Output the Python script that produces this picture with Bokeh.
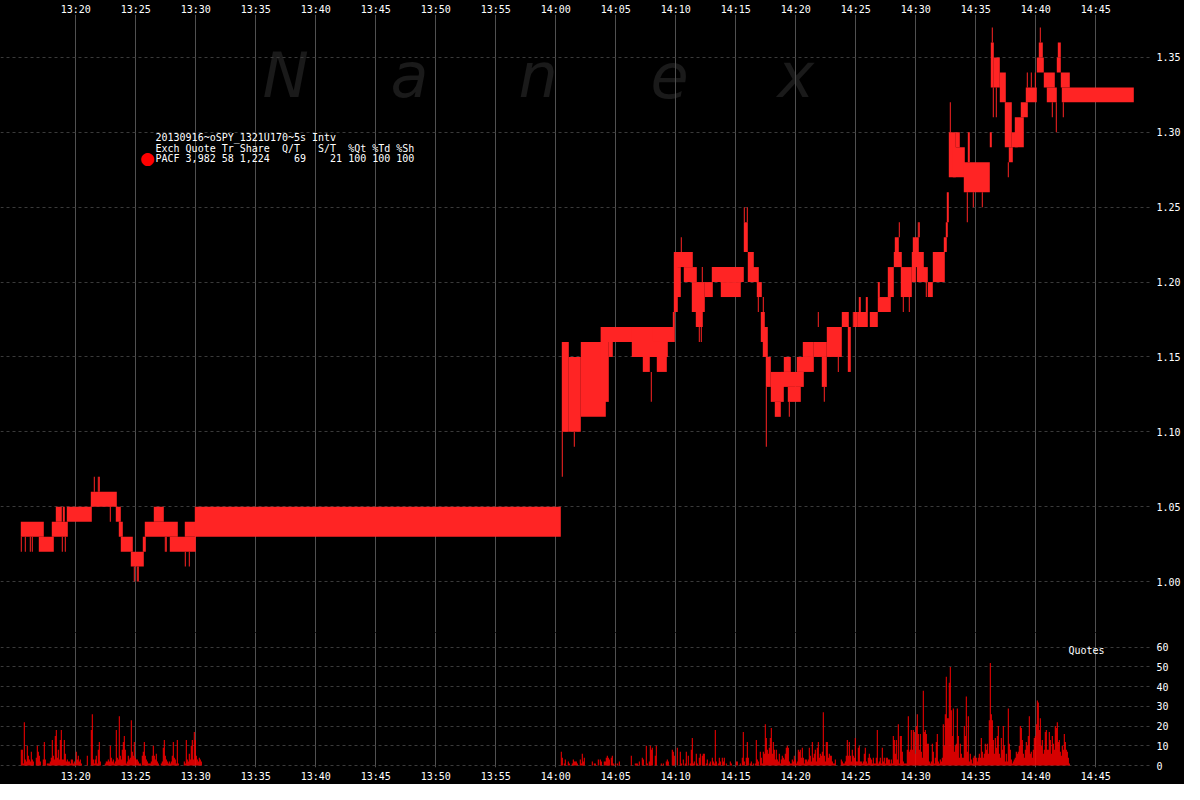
import re
from bokeh.plotting import figure
from bokeh.models import ColumnDataSource, Range1d, PrintfTickFormatter, Label
from bokeh.layouts import column
from bokeh.embed import file_html
from bokeh.resources import INLINE

# ---------------- data ----------------
time_ticks = ["13:20", "13:25", "13:30", "13:35", "13:40", "13:45", "13:50", "13:55",
              "14:00", "14:05", "14:10", "14:15", "14:20", "14:25", "14:30", "14:35",
              "14:40", "14:45"]
price_ticks = [1.00, 1.05, 1.10, 1.15, 1.20, 1.25, 1.30, 1.35]
quote_ticks = [0, 10, 20, 30, 40, 50, 60]

# 5-second interval quote ranges (blocks)
blk_start = ["13:15:25", "13:16:55", "13:18:00", "13:18:20", "13:18:55", "13:19:15", "13:21:15",
             "13:23:20", "13:23:35", "13:23:45", "13:24:35", "13:25:35", "13:25:45", "13:26:30",
             "13:27:50", "13:29:05", "13:29:55",
             "14:00:30", "14:01:05", "14:02:05", "14:03:45", "14:04:25", "14:03:45", "14:06:20",
             "14:07:15", "14:08:25", "14:08:05", "14:09:45", "14:09:50", "14:10:05", "14:10:05",
             "14:10:40", "14:11:20", "14:11:40", "14:12:25", "14:13:00", "14:13:45", "14:15:40",
             "14:16:00", "14:16:15", "14:16:45", "14:17:05", "14:17:15", "14:17:30", "14:17:55",
             "14:18:15", "14:18:45", "14:19:00", "14:19:20", "14:20:05", "14:20:35", "14:21:30",
             "14:22:10", "14:22:35", "14:23:50", "14:24:20", "14:24:50",
             "14:25:10", "14:25:15", "14:25:50", "14:26:10", "14:26:50", "14:26:50", "14:27:40",
             "14:28:10", "14:28:15", "14:28:45", "14:29:40", "14:29:45", "14:30:05", "14:30:35",
             "14:31:00", "14:31:25", "14:32:20", "14:32:30", "14:32:35", "14:32:45", "14:33:05",
             "14:33:20", "14:34:00", "14:34:20", "14:36:10", "14:36:15", "14:36:30", "14:37:00",
             "14:37:25", "14:37:45", "14:38:00", "14:38:15", "14:38:45", "14:39:10", "14:40:05",
             "14:40:15", "14:40:40", "14:40:55", "14:41:45", "14:41:50", "14:42:05", "14:42:10"]
blk_end = ["13:17:20", "13:18:10", "13:19:20", "13:18:50", "13:19:05", "13:21:20", "13:23:25",
           "13:23:45", "13:23:55", "13:24:45", "13:25:40", "13:25:50", "13:28:30", "13:27:20",
           "13:30:00", "13:30:00", "14:00:25",
           "14:01:05", "14:02:05", "14:04:10", "14:04:25", "14:04:45", "14:08:05", "14:09:20",
           "14:07:50", "14:09:15", "14:09:50", "14:09:55", "14:10:10", "14:11:25", "14:10:25",
           "14:11:45", "14:12:25", "14:12:15", "14:13:05", "14:15:40", "14:15:25", "14:16:00",
           "14:16:30", "14:16:55", "14:17:10", "14:17:25", "14:17:40", "14:17:55", "14:19:00",
           "14:18:45", "14:20:40", "14:19:35", "14:20:25", "14:21:30", "14:21:30", "14:22:35",
           "14:22:35", "14:23:50", "14:24:25", "14:24:35", "14:25:10",
           "14:26:00", "14:25:25", "14:26:00", "14:26:50", "14:27:55", "14:27:00", "14:28:10",
           "14:28:50", "14:28:35", "14:29:40", "14:30:00", "14:30:15", "14:30:40", "14:31:00",
           "14:31:25", "14:32:25", "14:32:35", "14:32:40", "14:32:45", "14:33:20", "14:34:05",
           "14:33:40", "14:36:10", "14:34:30", "14:36:20", "14:36:30", "14:37:00", "14:37:30",
           "14:38:00", "14:38:05", "14:38:30", "14:39:00", "14:39:20", "14:40:05", "14:40:40",
           "14:40:35", "14:41:35", "14:41:45", "14:42:05", "14:42:05", "14:42:50", "14:48:10"]
blk_low = [1.03, 1.02, 1.03, 1.04, 1.04, 1.04, 1.05,
           1.04, 1.03, 1.02, 1.01, 1.02, 1.03, 1.04,
           1.02, 1.03, 1.03,
           1.10, 1.10, 1.11, 1.12, 1.15, 1.16, 1.15,
           1.14, 1.14, 1.16, 1.16, 1.18, 1.21, 1.19,
           1.20, 1.18, 1.17, 1.19, 1.20, 1.19, 1.22,
           1.20, 1.20, 1.19, 1.16, 1.15, 1.13, 1.12,
           1.11, 1.13, 1.14, 1.12, 1.14, 1.15, 1.15,
           1.13, 1.15, 1.17, 1.14, 1.17,
           1.17, 1.18, 1.18, 1.17, 1.18, 1.19, 1.19,
           1.21, 1.22, 1.19, 1.20, 1.21, 1.20, 1.20,
           1.19, 1.20, 1.22, 1.23, 1.24, 1.27, 1.27,
           1.29, 1.26, 1.28, 1.29, 1.33, 1.33, 1.32,
           1.29, 1.28, 1.29, 1.29, 1.31, 1.32, 1.34,
           1.35, 1.33, 1.32, 1.34, 1.35, 1.33, 1.32]
blk_high = [1.04, 1.03, 1.04, 1.05, 1.05, 1.05, 1.06,
            1.05, 1.04, 1.03, 1.02, 1.03, 1.04, 1.05,
            1.03, 1.04, 1.05,
            1.16, 1.15, 1.16, 1.17, 1.17, 1.17, 1.17,
            1.15, 1.15, 1.17, 1.18, 1.22, 1.22, 1.21,
            1.21, 1.20, 1.18, 1.20, 1.21, 1.20, 1.24,
            1.22, 1.21, 1.20, 1.18, 1.17, 1.15, 1.14,
            1.12, 1.14, 1.15, 1.13, 1.15, 1.16, 1.16,
            1.15, 1.17, 1.18, 1.17, 1.18,
            1.18, 1.19, 1.19, 1.18, 1.19, 1.20, 1.21,
            1.22, 1.23, 1.21, 1.22, 1.23, 1.22, 1.21,
            1.20, 1.22, 1.23, 1.24, 1.26, 1.30, 1.29,
            1.30, 1.28, 1.30, 1.30, 1.36, 1.35, 1.34,
            1.32, 1.29, 1.30, 1.31, 1.32, 1.33, 1.35,
            1.36, 1.34, 1.33, 1.35, 1.36, 1.34, 1.33]

# single 5-second spikes
spike_time = ["13:15:25", "13:15:45", "13:16:10", "13:16:20", "13:18:50", "13:19:05", "13:21:30",
              "13:21:50", "13:21:55", "13:22:50", "13:24:50", "13:25:05", "13:25:10", "13:27:25",
              "13:27:30", "13:29:05", "13:29:25",
              "14:00:30", "14:01:30", "14:07:55", "14:10:25", "14:11:55", "14:12:05", "14:12:10",
              "14:15:40", "14:15:55", "14:16:50", "14:17:15", "14:17:30", "14:19:25", "14:21:50",
              "14:22:20", "14:23:30", "14:24:45", "14:28:35", "14:28:55", "14:29:25", "14:30:10",
              "14:30:15", "14:30:50", "14:32:50", "14:34:15", "14:34:45", "14:35:30", "14:36:20",
              "14:36:25", "14:36:40", "14:37:40", "14:39:15", "14:39:35", "14:39:55", "14:40:20",
              "14:41:20", "14:41:40", "14:42:15"]
spike_low = [1.02, 1.02, 1.02, 1.02, 1.02, 1.02, 1.06,
             1.06, 1.06, 1.04, 1.00, 1.00, 1.00, 1.02,
             1.02, 1.01, 1.01,
             1.07, 1.09, 1.12, 1.22, 1.16, 1.16, 1.20,
             1.24, 1.24, 1.18, 1.18, 1.09, 1.11, 1.17,
             1.12, 1.14, 1.17, 1.23, 1.18, 1.18, 1.23,
             1.23, 1.19, 1.30, 1.24, 1.25, 1.25, 1.36,
             1.31, 1.31, 1.27, 1.33, 1.33, 1.33, 1.36,
             1.31, 1.30, 1.31]
spike_high = [1.03, 1.03, 1.03, 1.03, 1.03, 1.03, 1.07,
              1.07, 1.07, 1.05, 1.01, 1.01, 1.01, 1.03,
              1.03, 1.02, 1.02,
              1.10, 1.10, 1.14, 1.23, 1.17, 1.17, 1.21,
              1.25, 1.25, 1.19, 1.19, 1.13, 1.12, 1.18,
              1.13, 1.15, 1.18, 1.24, 1.19, 1.19, 1.24,
              1.24, 1.20, 1.32, 1.26, 1.26, 1.26, 1.37,
              1.33, 1.33, 1.28, 1.34, 1.34, 1.34, 1.37,
              1.32, 1.32, 1.32]

# quotes per 5-second interval
quotes_a_start = "13:15:20"
quotes_a = [0, 8, 8, 1, 22, 3, 2, 10, 5, 3,
            2, 7, 3, 2, 0, 0, 4, 10, 7, 5,
            2, 0, 0, 3, 12, 3, 0, 1, 1, 1,
            2, 4, 13, 5, 3, 15, 18, 4, 8, 3,
            13, 18, 3, 3, 13, 6, 2, 3, 2, 2,
            1, 3, 3, 1, 2, 1, 7, 3, 5, 2,
            3, 1, 0, 0, 0, 0, 0, 5, 0, 0,
            0, 18, 26, 3, 1, 3, 5, 1, 8, 12,
            2, 0, 0, 0, 0, 1, 2, 2, 3, 2,
            10, 4, 2, 3, 1, 2, 18, 4, 3, 25,
            5, 3, 8, 12, 15, 8, 1, 2, 5, 3,
            4, 23, 7, 5, 12, 4, 3, 3, 2, 1,
            1, 0, 5, 7, 12, 5, 3, 2, 1, 1,
            1, 2, 5, 10, 5, 3, 6, 2, 1, 0,
            0, 1, 2, 9, 13, 5, 3, 2, 1, 2,
            1, 2, 5, 12, 4, 3, 1, 13, 1, 0,
            0, 0, 0, 0, 2, 1, 13, 3, 2, 6,
            3, 10, 13, 3, 17, 13, 5, 3, 2, 4,
            3, 2, 0]
quotes_b_start = "14:00:20"
quotes_b = [0, 7, 4, 0, 1, 3, 0, 0, 2, 1,
            0, 0, 1, 3, 2, 2, 2, 1, 0, 0,
            3, 1, 6, 2, 4, 0, 0, 0, 0, 0,
            0, 0, 2, 0, 1, 1, 0, 0, 3, 0,
            3, 2, 0, 0, 2, 2, 4, 5, 4, 3,
            0, 4, 5, 1, 0, 1, 0, 1, 0, 2,
            0, 0, 0, 0, 0, 0, 0, 0, 0, 0,
            0, 5, 0, 0, 0, 1, 1, 1, 0, 2,
            0, 0, 4, 3, 0, 0, 10, 1, 0, 2,
            10, 8, 9, 0, 0, 5, 10, 0, 0, 0,
            0, 1, 0, 1, 0, 0, 2, 3, 2, 0,
            0, 0, 8, 7, 5, 0, 0, 9, 0, 0,
            7, 1, 0, 3, 0, 1, 7, 0, 5, 0,
            1, 8, 14, 1, 2, 0, 6, 1, 0, 4,
            6, 0, 5, 6, 6, 0, 1, 3, 0, 1,
            2, 0, 4, 2, 1, 18, 2, 0, 1, 4,
            2, 0, 4, 2, 4, 0, 1, 0, 0, 0,
            2, 1, 0, 0, 0, 0, 2, 2, 0, 0,
            1, 0, 4, 17, 2, 0, 4, 12, 4, 0,
            1, 2, 0, 1, 0, 1, 13, 3, 2, 0,
            7, 4, 1, 7, 6, 21, 14, 8, 6, 9,
            14, 19, 6, 12, 8, 3, 8, 3, 2, 6,
            1, 3, 5, 4, 3, 6, 9, 10, 9, 2,
            1, 1, 3, 2, 5, 3, 1, 2, 8, 7,
            8, 4, 9, 4, 1, 3, 3, 2, 3, 9,
            5, 2, 12, 4, 6, 8, 2, 9, 12, 4,
            6, 5, 7, 27, 5, 2, 12, 12, 4, 6,
            5, 5, 2, 1, 1, 3, 0, 0, 0, 0,
            0, 3, 2, 1, 1, 2, 5, 13, 5, 12,
            5, 2, 8, 5, 4, 14, 2, 2, 9, 10,
            2, 2, 1, 2, 6, 9, 2, 1, 4, 6,
            4, 3, 1, 4, 1, 1, 4, 18, 1, 2,
            4, 1, 9, 2, 4, 1, 4, 4, 3, 3,
            1, 3, 1, 15, 13, 6, 13, 3, 21, 1,
            15, 15, 7, 2, 1, 1, 1, 8, 25, 7,
            8, 18, 8, 18, 17, 6, 20, 26, 16, 8,
            16, 7, 4, 38, 17, 18, 16, 11, 11, 2,
            1, 2, 11, 7, 1, 4, 12, 16, 2, 1,
            3, 2, 4, 21, 10, 26, 45, 24, 24, 42,
            50, 28, 15, 29, 7, 10, 11, 29, 15, 4,
            11, 6, 4, 4, 20, 15, 35, 7, 25, 2,
            6, 3, 1, 4, 5, 4, 4, 2, 4, 6,
            4, 14, 7, 4, 6, 11, 8, 11, 6, 23,
            52, 26, 23, 13, 6, 14, 9, 15, 20, 6,
            4, 14, 8, 20, 10, 2, 6, 2, 29, 11,
            8, 3, 1, 2, 3, 4, 7, 6, 7, 10,
            20, 19, 13, 6, 4, 8, 12, 10, 15, 25,
            6, 7, 4, 8, 14, 15, 21, 33, 32, 18,
            24, 10, 13, 6, 8, 17, 18, 8, 8, 17,
            13, 6, 15, 11, 8, 20, 19, 22, 12, 13,
            7, 5, 10, 8, 16, 12, 8, 7, 4, 1]

legend_lines = ["20130916~oSPY_1321U170~5s Intv",
                "Exch Quote Tr Share  Q/T   S/T  %Qt %Td %Sh",
                "PACF 3,982 58 1,224    69    21 100 100 100"]
watermark = ["N", "a", "n", "e", "x"]

# ---------------- helpers / layout ----------------
def tmin(s):
    parts = [int(v) for v in s.split(":")]
    if len(parts) == 2:
        parts.append(0)
    h, m, sec = parts
    return h * 60 + m + sec / 60.0


def keep_spaces(s):
    # SVG collapses runs of spaces; keep the column alignment with NBSPs
    return re.sub(r" {2,}", lambda m: " " + "\u00a0" * (len(m.group()) - 1), s)


BIN = 5 / 60.0
MONO = "DejaVu Sans Mono"
PRICE_RED = "#ff2424"
VOL_RED = "#ff0000"

# pixel anchors inside the figure (layout of the reference)
X_1320 = 75.3          # x of 13:20
PX_MIN = 12.0          # pixels per minute
Y_P100 = 581.0         # y of price 1.00
PX_PRICE = 1500.0      # pixels per 1.00 of price
Y_Q0 = 767.0           # y of 0 quotes
PX_Q = 2.0             # pixels per quote


def px_t(xp):
    return tmin("13:20") + (xp - X_1320) / PX_MIN


def py_price(yp):
    return 1.0 + (Y_P100 - yp) / PX_PRICE


def py_q(yp):
    return (Y_Q0 - yp) / PX_Q


W = 1184
H1 = 632
H2 = 152
FRAME_RIGHT = 1150
TOP1 = 13      # y of top of price frame
SPLIT = H1     # y between panels
BOT2 = 769     # y of bottom of quote frame

xr = Range1d(px_t(0), px_t(FRAME_RIGHT))
tick_pos = [tmin(t) for t in time_ticks]
overrides = {tp: lab for tp, lab in zip(tick_pos, time_ticks)}


def style_axis(ax):
    ax.axis_line_color = None
    ax.major_tick_line_color = None
    ax.minor_tick_line_color = None
    ax.major_tick_out = 0
    ax.major_tick_in = 0
    ax.major_label_text_color = "white"
    ax.major_label_text_font = MONO
    ax.major_label_text_font_size = "10px"
    ax.major_label_standoff = 3


def style_grid(p):
    p.xgrid.grid_line_color = "#505050"
    p.xgrid.grid_line_width = 1
    p.ygrid.grid_line_color = "#3a3a3a"
    p.ygrid.grid_line_dash = "3 3"


# ---------------- price panel ----------------
p1 = figure(width=W, height=H1, x_range=xr,
            y_range=Range1d(py_price(SPLIT), py_price(TOP1)),
            output_backend="svg", toolbar_location=None,
            x_axis_location="above", y_axis_location="right",
            min_border_left=0, min_border_right=W - FRAME_RIGHT,
            min_border_top=TOP1, min_border_bottom=0,
            background_fill_color="black", border_fill_color="black",
            outline_line_color=None)
p1.xaxis.ticker = tick_pos
p1.xaxis.major_label_overrides = overrides
p1.yaxis.ticker = price_ticks
p1.yaxis.formatter = PrintfTickFormatter(format="%.2f")
for ax in p1.axis:
    style_axis(ax)
p1.xaxis.major_label_standoff = 0
p1.yaxis.major_label_standoff = 6
style_grid(p1)

# watermark
wm_x = [262, 390, 518, 650, 777]
for ch, xp in zip(watermark, wm_x):
    p1.add_layout(Label(x=px_t(xp), y=py_price(74), text=ch,
                        text_font="DejaVu Sans", text_font_style="italic",
                        text_font_size="62px", text_color="#1a1a1a",
                        text_baseline="alphabetic", text_align="left",
                        level="image"))

blocks = ColumnDataSource(dict(
    left=[tmin(s) for s in blk_start],
    right=[tmin(s) for s in blk_end],
    bottom=blk_low, top=blk_high))
p1.quad(left="left", right="right", bottom="bottom", top="top", source=blocks,
        fill_color=PRICE_RED, line_color=None)

spikes = ColumnDataSource(dict(
    left=[tmin(s) for s in spike_time],
    right=[tmin(s) + BIN for s in spike_time],
    bottom=spike_low, top=spike_high))
p1.quad(left="left", right="right", bottom="bottom", top="top", source=spikes,
        fill_color=PRICE_RED, line_color=None)

# legend text
leg_y = [136.5, 147, 157]
for line, yp in zip(legend_lines, leg_y):
    p1.add_layout(Label(x=px_t(155), y=py_price(yp), text=keep_spaces(line),
                        text_font=MONO, text_font_size="10px", text_color="white",
                        text_baseline="middle", text_align="left"))
p1.add_layout(Label(x=px_t(147), y=py_price(157), text="\u25cf",
                    text_font="DejaVu Sans", text_font_size="17px", text_color="#ff0000",
                    text_baseline="middle", text_align="center"))

# ---------------- quotes panel ----------------
p2 = figure(width=W, height=H2, x_range=xr,
            y_range=Range1d(py_q(BOT2), py_q(SPLIT)),
            output_backend="svg", toolbar_location=None,
            x_axis_location="below", y_axis_location="right",
            min_border_left=0, min_border_right=W - FRAME_RIGHT,
            min_border_top=0, min_border_bottom=H1 + H2 - BOT2,
            background_fill_color="black", border_fill_color="black",
            outline_line_color=None)
p2.xaxis.ticker = tick_pos
p2.xaxis.major_label_overrides = overrides
p2.yaxis.ticker = quote_ticks
for ax in p2.axis:
    style_axis(ax)
p2.yaxis.major_label_standoff = 6
style_grid(p2)

qa = ColumnDataSource(dict(
    x=[tmin(quotes_a_start) + (i + 0.5) * BIN for i in range(len(quotes_a))],
    top=quotes_a))
qb = ColumnDataSource(dict(
    x=[tmin(quotes_b_start) + (i + 0.5) * BIN for i in range(len(quotes_b))],
    top=quotes_b))
for src in (qa, qb):
    p2.vbar(x="x", top="top", bottom=0, width=BIN, source=src,
            fill_color=VOL_RED, line_color=None)

p2.add_layout(Label(x=px_t(1068), y=py_q(650), text="Quotes",
                    text_font=MONO, text_font_size="10px", text_color="white",
                    text_baseline="middle", text_align="left"))

layout = column(p1, p2, spacing=0, styles={"background-color": "#000000"})
html = file_html(layout, INLINE)
html = html.replace("<body>", "<body style=\"background-color:#000000;\">", 1)
open("out.html", "w").write(html)
